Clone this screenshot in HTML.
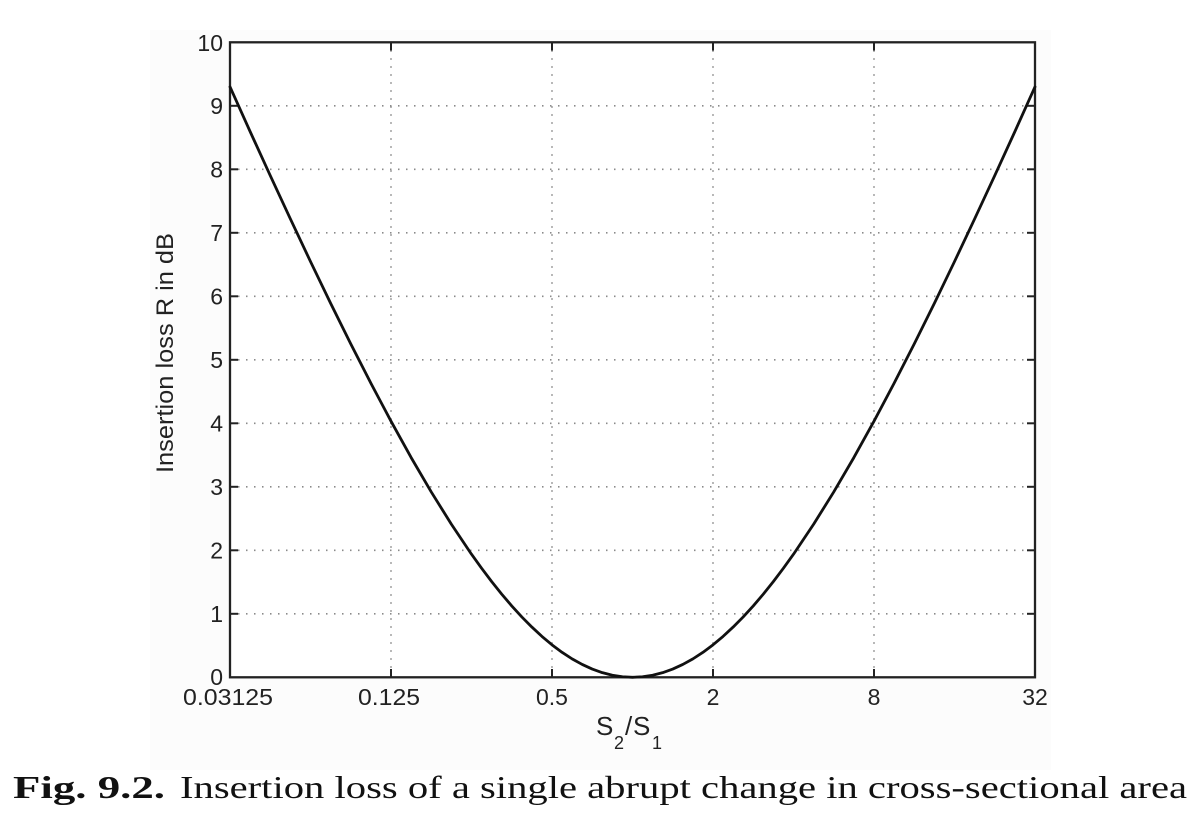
<!DOCTYPE html>
<html>
<head>
<meta charset="utf-8">
<style>
html,body{margin:0;padding:0;background:#ffffff;}
svg{display:block;}
</style>
</head>
<body>
<svg width="1200" height="830" viewBox="0 0 1200 830" xmlns="http://www.w3.org/2000/svg">
  <rect x="0" y="0" width="1200" height="830" fill="#ffffff"/>
  <rect x="150" y="30" width="901" height="740" fill="#fcfcfc"/>
  <!-- plot area -->
  <rect x="230" y="42.3" width="805" height="635" fill="#ffffff"/>

  <!-- grid -->
  <g stroke="#8a8a8a" stroke-width="1.6" stroke-dasharray="1.5,6.5" fill="none">
    <line x1="391" y1="42.3" x2="391" y2="677.3"/>
    <line x1="552" y1="42.3" x2="552" y2="677.3"/>
    <line x1="713" y1="42.3" x2="713" y2="677.3"/>
    <line x1="874" y1="42.3" x2="874" y2="677.3"/>
    <line x1="230" y1="613.8" x2="1035" y2="613.8"/>
    <line x1="230" y1="550.3" x2="1035" y2="550.3"/>
    <line x1="230" y1="486.8" x2="1035" y2="486.8"/>
    <line x1="230" y1="423.3" x2="1035" y2="423.3"/>
    <line x1="230" y1="359.8" x2="1035" y2="359.8"/>
    <line x1="230" y1="296.3" x2="1035" y2="296.3"/>
    <line x1="230" y1="232.8" x2="1035" y2="232.8"/>
    <line x1="230" y1="169.3" x2="1035" y2="169.3"/>
    <line x1="230" y1="105.8" x2="1035" y2="105.8"/>
  </g>

  <!-- ticks -->
  <g stroke="#222" stroke-width="2">
    <line x1="230" y1="613.8" x2="238" y2="613.8"/><line x1="1035" y1="613.8" x2="1027" y2="613.8"/>
    <line x1="230" y1="550.3" x2="238" y2="550.3"/><line x1="1035" y1="550.3" x2="1027" y2="550.3"/>
    <line x1="230" y1="486.8" x2="238" y2="486.8"/><line x1="1035" y1="486.8" x2="1027" y2="486.8"/>
    <line x1="230" y1="423.3" x2="238" y2="423.3"/><line x1="1035" y1="423.3" x2="1027" y2="423.3"/>
    <line x1="230" y1="359.8" x2="238" y2="359.8"/><line x1="1035" y1="359.8" x2="1027" y2="359.8"/>
    <line x1="230" y1="296.3" x2="238" y2="296.3"/><line x1="1035" y1="296.3" x2="1027" y2="296.3"/>
    <line x1="230" y1="232.8" x2="238" y2="232.8"/><line x1="1035" y1="232.8" x2="1027" y2="232.8"/>
    <line x1="230" y1="169.3" x2="238" y2="169.3"/><line x1="1035" y1="169.3" x2="1027" y2="169.3"/>
    <line x1="230" y1="105.8" x2="238" y2="105.8"/><line x1="1035" y1="105.8" x2="1027" y2="105.8"/>
    <line x1="391" y1="677.3" x2="391" y2="669"/><line x1="391" y1="42.3" x2="391" y2="50.5"/>
    <line x1="552" y1="677.3" x2="552" y2="669"/><line x1="552" y1="42.3" x2="552" y2="50.5"/>
    <line x1="713" y1="677.3" x2="713" y2="669"/><line x1="713" y1="42.3" x2="713" y2="50.5"/>
    <line x1="874" y1="677.3" x2="874" y2="669"/><line x1="874" y1="42.3" x2="874" y2="50.5"/>
  </g>

  <!-- axes box -->
  <rect x="230" y="42.3" width="805" height="635" fill="none" stroke="#222" stroke-width="2.3"/>

  <!-- curve -->
  <polyline fill="none" stroke="#111" stroke-width="2.8" stroke-linejoin="round" stroke-linecap="round"
    points="230,86.86 250.1,131.5 270.25,175.57 290.4,218.96 310.5,261.55 330.6,303.23 350.75,343.86 370.9,383.23 391,421.19 411.1,457.49 431.25,491.94 451.4,524.27 471.5,554.22 481.56,568.21 491.6,581.52 501.69,594.1 511.75,605.91 521.81,616.94 531.9,627.08 541.94,636.39 552,644.85 562.06,652.32 572.1,658.87 582.19,664.46 592.25,669.06 602.31,672.65 612.4,675.23 622.44,676.78 632.5,677.3 642.56,676.78 652.6,675.23 662.69,672.65 672.75,669.06 682.81,664.46 692.9,658.87 702.94,652.32 713,644.85 723.06,636.39 733.1,627.08 743.19,616.94 753.25,605.91 763.31,594.1 773.4,581.52 783.44,568.21 793.5,554.22 813.6,524.27 833.75,491.94 853.9,457.49 874,421.19 894.1,383.23 914.25,343.86 934.4,303.23 954.5,261.55 974.6,218.96 994.75,175.57 1014.9,131.5 1035,86.86"/>

  <!-- y tick labels -->
  <g font-family="'Liberation Sans', Arial, sans-serif" font-size="23" fill="#222" text-anchor="end">
    <text x="223" y="685">0</text>
    <text x="223" y="622">1</text>
    <text x="223" y="558.5">2</text>
    <text x="223" y="495">3</text>
    <text x="223" y="431.5">4</text>
    <text x="223" y="368">5</text>
    <text x="223" y="304.5">6</text>
    <text x="223" y="241">7</text>
    <text x="223" y="177.5">8</text>
    <text x="223" y="114">9</text>
    <text x="223" y="51">10</text>
  </g>

  <!-- x tick labels -->
  <g font-family="'Liberation Sans', Arial, sans-serif" font-size="23" fill="#222" text-anchor="middle">
    <text x="228" y="705" textLength="90" lengthAdjust="spacingAndGlyphs">0.03125</text>
    <text x="389" y="705" textLength="62" lengthAdjust="spacingAndGlyphs">0.125</text>
    <text x="552" y="705">0.5</text>
    <text x="713" y="705">2</text>
    <text x="874" y="705">8</text>
    <text x="1035" y="705">32</text>
  </g>

  <!-- x axis label -->
  <g font-family="'Liberation Sans', Arial, sans-serif" fill="#222">
    <text x="596" y="735" font-size="26">S</text>
    <text x="614" y="749" font-size="18">2</text>
    <text x="625" y="735" font-size="26">/</text>
    <text x="633" y="735" font-size="26">S</text>
    <text x="652" y="749" font-size="18">1</text>
  </g>

  <!-- y axis label -->
  <text transform="translate(173,353) rotate(-90)" font-family="'Liberation Sans', Arial, sans-serif" font-size="24" fill="#222" text-anchor="middle" textLength="240" lengthAdjust="spacingAndGlyphs">Insertion loss R in dB</text>

  <!-- caption -->
  <g font-family="'Liberation Serif', 'Times New Roman', serif" font-size="32" fill="#111">
    <text x="13" y="798" font-weight="bold" textLength="152" lengthAdjust="spacingAndGlyphs">Fig. 9.2.</text>
    <text x="180" y="798" textLength="1007" lengthAdjust="spacingAndGlyphs">Insertion loss of a single abrupt change in cross-sectional area</text>
  </g>
</svg>
</body>
</html>
